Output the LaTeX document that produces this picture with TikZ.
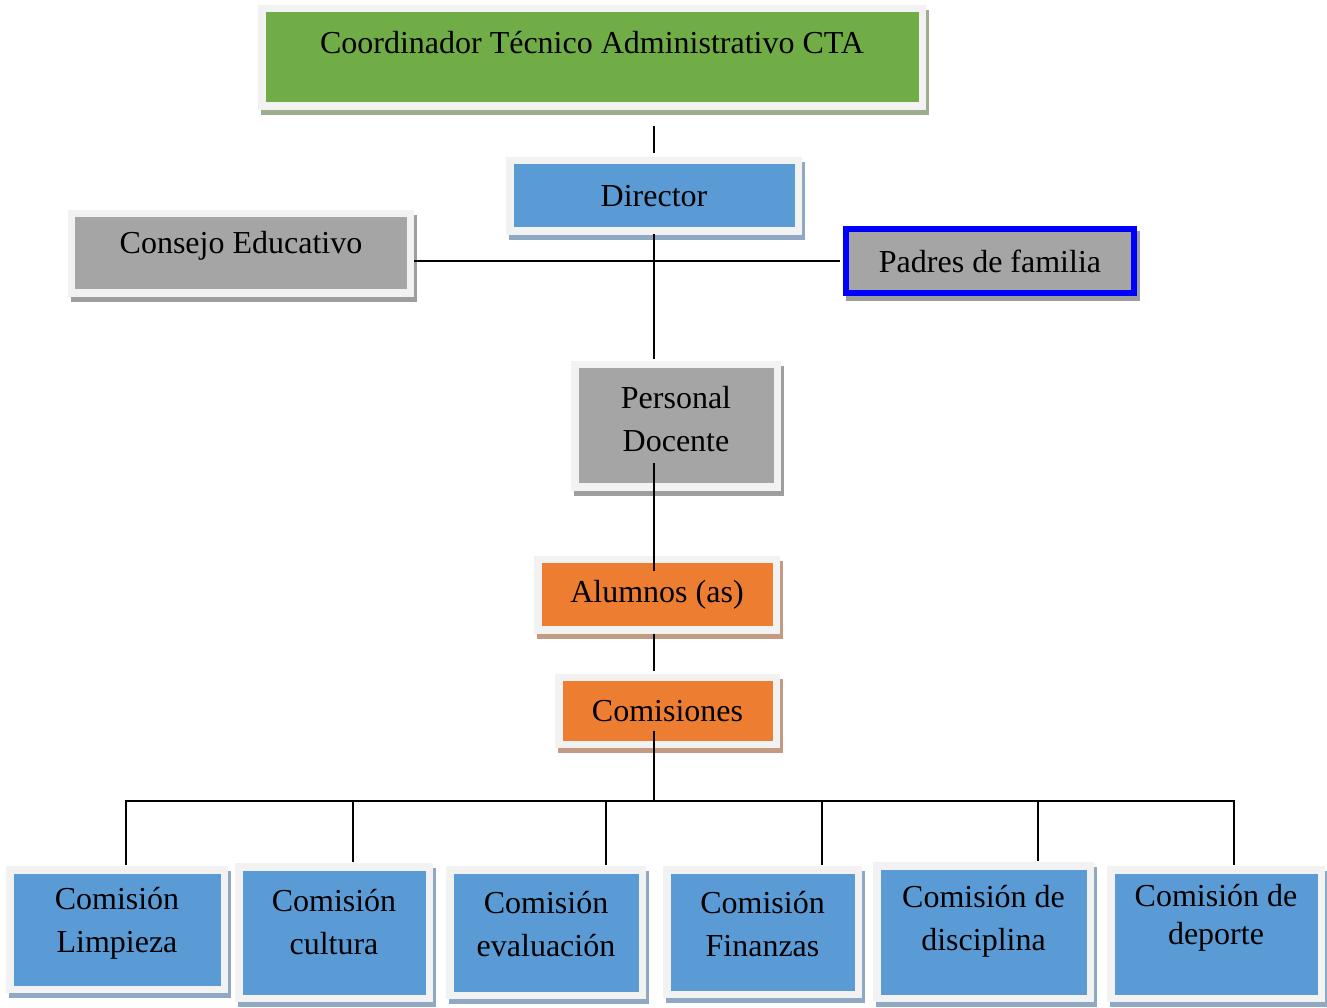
\documentclass[tikz,border=0pt]{standalone}
\usepackage{fontspec}
\setmainfont{Liberation Serif}
\usetikzlibrary{calc,positioning}
\definecolor{frameColor}{RGB}{242,242,242}
\definecolor{greenColor}{RGB}{112,173,71}
\definecolor{blueColor}{RGB}{91,155,213}
\definecolor{grayColor}{RGB}{165,165,165}
\definecolor{orangeColor}{RGB}{237,125,49}
\definecolor{greenShadow}{RGB}{157,173,144}
\definecolor{blueShadow}{RGB}{143,169,196}
\definecolor{grayShadow}{RGB}{158,158,158}
\definecolor{orangeShadow}{RGB}{196,154,131}
\tikzset{orgbox/.style={draw=frameColor, line width=7.5pt, align=center, inner sep=0pt, text=black, font=\fontsize{32}{43}\selectfont, preaction={draw=#1, fill=#1, transform canvas={shift={(3pt,-5pt)}}}}}
\tikzset{greenbox/.style={orgbox=greenShadow, fill=greenColor}}
\tikzset{bluebox/.style={orgbox=blueShadow, fill=blueColor}}
\tikzset{graybox/.style={orgbox=grayShadow, fill=grayColor}}
\tikzset{orangebox/.style={orgbox=orangeShadow, fill=orangeColor}}
\tikzstyle{link} = [line width=1.8pt, draw=black]

\begin{document}
\begin{tikzpicture}[x=1pt, y=1pt]
	\useasboundingbox (0,0) rectangle (1327,1007);
	% Nodes
	\node (cta) [greenbox, minimum width=660.5pt, minimum height=97.5pt, text depth=30pt] at (592,949.5) {Coordinador Técnico Administrativo CTA};
	\node (director) [bluebox, minimum width=288.5pt, minimum height=70.5pt] at (654,811) {Director};
	\node (consejo) [graybox, minimum width=339pt, minimum height=79.5pt, text depth=22pt] at (241,753.5) {Consejo Educativo};
	\node (padres) [graybox, draw=blue, line width=6pt, minimum width=288pt, minimum height=64pt] at (990,746) {Padres de familia};
	\node (personal) [graybox, minimum width=202.5pt, minimum height=122.5pt, text depth=14pt] at (676,581) {Personal\\Docente};
	\node (alumnos) [orangebox, minimum width=238.5pt, minimum height=70.5pt] at (657,412) {Alumnos (as)};
	\node (comisiones) [orangebox, minimum width=217.5pt, minimum height=66.5pt] at (667.5,296) {Comisiones};

	\node (limpieza) [bluebox, minimum width=214.5pt, minimum height=119.5pt, text depth=19pt] at (117,77.5) {Comisión\\Limpieza};
	\node (cultura) [bluebox, minimum width=190.5pt, minimum height=131.5pt, text depth=22pt] at (334,74.5) {Comisión\\cultura};
	\node (evaluacion) [bluebox, minimum width=192.5pt, minimum height=125.5pt, text depth=18pt] at (546,74.5) {Comisión\\evaluación};
	\node (finanzas) [bluebox, minimum width=191.5pt, minimum height=124.5pt, text depth=17pt] at (762.5,75) {Comisión\\Finanzas};
	\node (disciplina) [bluebox, minimum width=213.5pt, minimum height=132.5pt, text depth=29pt] at (983.5,75) {Comisión de\\disciplina};
	\node (deporte) [bluebox, minimum width=210.5pt, minimum height=128.5pt, text depth=39pt, font=\fontsize{32}{38}\selectfont] at (1216,73) {Comisión de\\deporte};

	\coordinate (busjoin) at ($(director.south |- comisiones.south)+(0,-53)$);

	% Connectors
	\begin{scope}[link]
		\draw ($(cta.south -| director.north)+(0,-16)$) -- ($(director.north)+(0,4)$);
		\draw ($(director.south)+(0,1)$) -- ($(director.south |- personal.north)+(0,2)$);
		\draw (consejo.east |- padres.west) -- ($(padres.west)+(-3,0)$);
		\draw ($(director.south |- personal.south)+(0,28)$) -- ($(director.south |- alumnos.north)+(0,-15)$);
		\draw (director.south |- alumnos.south) -- ($(director.south |- comisiones.north)+(0,3)$);
		\draw ($(director.south |- comisiones.south)+(0,17)$) -- (busjoin);
		\foreach \unit/\dx in {limpieza/9, cultura/19, evaluacion/60, finanzas/59.5, disciplina/54.5, deporte/18}
			\draw ([xshift=\dx pt, yshift=1pt]\unit.north) |- (busjoin);
	\end{scope}
\end{tikzpicture}
\end{document}
